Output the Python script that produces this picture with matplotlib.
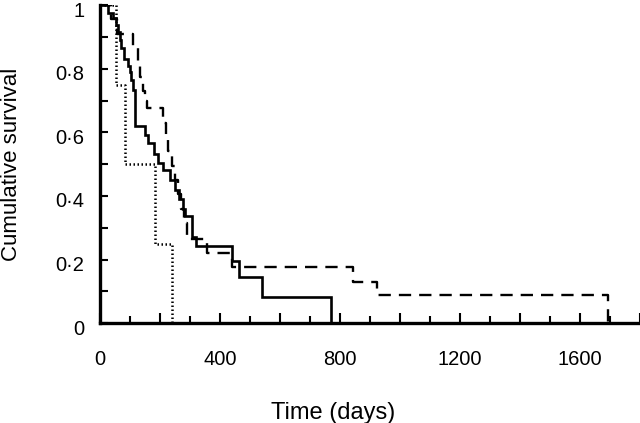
import matplotlib
matplotlib.use('Agg')
import matplotlib.pyplot as plt
import matplotlib.transforms as mtransforms
from matplotlib.ticker import MultipleLocator, FuncFormatter

plt.rcParams.update({
    'font.family': ['Liberation Sans', 'DejaVu Sans'],
})

# Kaplan-Meier curves (days, cumulative survival)
solid_t = [0, 27, 43, 54, 62, 66, 71, 82, 93, 99, 104, 110, 116, 150, 161, 180, 195, 212,
           235, 252, 265, 276, 284, 308, 322, 441, 463, 541, 770]
solid_s = [1.0, 0.974, 0.96, 0.937, 0.916, 0.89, 0.864, 0.832, 0.81, 0.79, 0.764, 0.733,
           0.62, 0.59, 0.565, 0.533, 0.505, 0.48, 0.45, 0.42, 0.39, 0.36, 0.336, 0.272,
           0.243, 0.195, 0.145, 0.083, 0.0]

dashed_t = [0, 38, 58, 110, 127, 135, 143, 150, 157, 210, 220, 227, 240, 250, 262, 272,
            281, 289, 356, 441, 843, 923, 1693]
dashed_s = [1.0, 0.955, 0.91, 0.865, 0.82, 0.775, 0.73, 0.70, 0.675, 0.63, 0.585, 0.54,
            0.495, 0.45, 0.405, 0.36, 0.315, 0.265, 0.22, 0.177, 0.13, 0.088, 0.0]

dotted_t = [0, 54, 84, 183, 239]
dotted_s = [1.0, 0.75, 0.5, 0.25, 0.0]

fig = plt.figure(figsize=(6.4, 4.23), dpi=100)
ax = fig.add_axes([0.156, 0.236, 0.844, 0.752])

ax.step(solid_t, solid_s, where='post', color='black', lw=1.9, solid_joinstyle='miter')
ax.step(dashed_t, dashed_s, where='post', color='black', lw=1.7, linestyle=(0, (5.2, 3.4)))
ax.step(dotted_t, dotted_s, where='post', color='black', lw=1.8, linestyle=(0, (0.6, 1.0)))

ax.set_xlim(0, 1800)
ax.set_ylim(0, 1.0)

for s in ['top', 'right']:
    ax.spines[s].set_visible(False)
for s in ['left', 'bottom']:
    ax.spines[s].set_linewidth(2.4)

ax.xaxis.set_major_locator(MultipleLocator(200))
ax.xaxis.set_minor_locator(MultipleLocator(100))
ax.xaxis.set_major_formatter(FuncFormatter(lambda v, p: f'{int(v)}' if int(v) % 400 == 0 else ''))
ax.yaxis.set_major_locator(MultipleLocator(0.2))
ax.yaxis.set_minor_locator(MultipleLocator(0.1))
ax.yaxis.set_major_formatter(FuncFormatter(
    lambda v, p: '0' if abs(v) < 1e-9 else ('1' if abs(v - 1) < 1e-9 else f'{v:.1f}'.replace('.', '\u00b7'))))

ax.tick_params(axis='both', which='both', direction='in', width=1.5, labelsize=14.5, colors='black')
ax.tick_params(axis='x', which='major', length=7, pad=19)
ax.tick_params(axis='x', which='minor', length=5)
ax.tick_params(axis='y', which='both', length=6, pad=11)

# y tick labels sit a few pixels low in the original
shift = mtransforms.ScaledTranslation(0, -4 / 100, fig.dpi_scale_trans)
for lab in ax.get_yticklabels():
    lab.set_transform(lab.get_transform() + shift)

ax.set_xlabel('Time (days)', fontsize=17)
ax.set_ylabel('Cumulative survival', fontsize=16)
ax.xaxis.set_label_coords(0.431, -0.248)
ax.yaxis.set_label_coords(-0.145, 0.5)

fig.savefig('out.png', dpi=100)
